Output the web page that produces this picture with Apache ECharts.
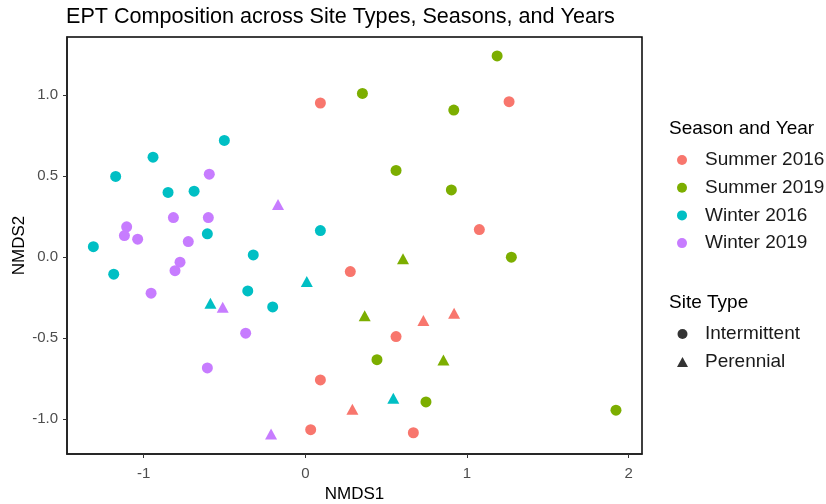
<!DOCTYPE html>
<html>
<head>
<meta charset="utf-8">
<script src="https://cdn.jsdelivr.net/npm/echarts@6/dist/echarts.min.js"></script>
<style>html,body{margin:0;padding:0;background:#fff}#c{width:826px;height:504px}</style>
</head>
<body>
<div id="c"></div>
<script>
// Data: [NMDS1, NMDS2, site type] (I = Intermittent, P = Perennial)
const seasonNames = ['Summer 2016', 'Summer 2019', 'Winter 2016', 'Winter 2019'];
const siteTypes = ['Intermittent', 'Perennial'];
const summer2016 = [
  [0.093, 0.951, 'I'], [1.260, 0.959, 'I'], [1.076, 0.170, 'I'], [0.278, -0.089, 'I'],
  [0.561, -0.490, 'I'], [0.093, -0.757, 'I'], [0.033, -1.064, 'I'], [0.668, -1.083, 'I'],
  [0.730, -0.391, 'P'], [0.920, -0.346, 'P'], [0.291, -0.938, 'P']
];
const summer2019 = [
  [1.186, 1.241, 'I'], [0.353, 1.010, 'I'], [0.918, 0.907, 'I'], [0.561, 0.535, 'I'],
  [0.903, 0.415, 'I'], [1.274, 0.000, 'I'], [0.443, -0.632, 'I'], [0.746, -0.893, 'I'],
  [1.921, -0.944, 'I'],
  [0.604, -0.010, 'P'], [0.367, -0.362, 'P'], [0.854, -0.634, 'P']
];
const winter2016 = [
  [-0.501, 0.720, 'I'], [-0.942, 0.617, 'I'], [-1.173, 0.498, 'I'], [-0.849, 0.399, 'I'],
  [-0.688, 0.407, 'I'], [0.093, 0.164, 'I'], [-0.606, 0.144, 'I'], [-1.311, 0.065, 'I'],
  [-0.322, 0.014, 'I'], [-1.185, -0.105, 'I'], [-0.356, -0.208, 'I'], [-0.202, -0.307, 'I'],
  [-0.587, -0.284, 'P'], [0.009, -0.150, 'P'], [0.544, -0.870, 'P']
];
const winter2019 = [
  [-0.594, 0.512, 'I'], [-0.816, 0.244, 'I'], [-0.600, 0.244, 'I'], [-1.105, 0.187, 'I'],
  [-1.119, 0.133, 'I'], [-1.037, 0.111, 'I'], [-0.724, 0.096, 'I'], [-0.775, -0.031, 'I'],
  [-0.806, -0.083, 'I'], [-0.954, -0.222, 'I'], [-0.369, -0.469, 'I'], [-0.606, -0.683, 'I'],
  [-0.169, 0.325, 'P'], [-0.511, -0.309, 'P'], [-0.212, -1.091, 'P']
];
const xTicks = [-1, 0, 1, 2];
const yTicks = [-1.0, -0.5, 0.0, 0.5, 1.0];

const seasonData = [summer2016, summer2019, winter2016, winter2019];
const colors = ['#F8766D', '#7CAE00', '#00BFC4', '#C77CFF'];
const FONT = 'Liberation Sans, Arial, sans-serif';

const chart = echarts.init(document.getElementById('c'), null, {renderer: 'canvas'});

const series = seasonNames.map((name, i) => ({
  name: name,
  type: 'scatter',
  symbol: 'circle',
  symbolSize: 11,
  itemStyle: {color: colors[i], opacity: 1},
  emphasis: {disabled: true},
  data: seasonData[i].map(p => ({
    value: [p[0], p[1]],
    symbol: p[2] === 'P' ? 'triangle' : 'circle',
    symbolSize: p[2] === 'P' ? [12, 11] : 11
  }))
}));
series.push({name: siteTypes[0], type: 'scatter', symbol: 'circle', itemStyle: {color: '#000'}, data: []});
series.push({name: siteTypes[1], type: 'scatter', symbol: 'triangle', itemStyle: {color: '#000'}, data: []});

const option = {
  animation: false,
  backgroundColor: '#fff',
  title: {
    text: 'EPT Composition across Site Types, Seasons, and Years',
    left: 66, top: 6, padding: 0,
    textStyle: {fontFamily: FONT, fontSize: 21.6, fontWeight: 'normal', color: '#000'}
  },
  grid: {
    left: 67, right: 184, top: 37, bottom: 50,
    containLabel: false, outerBoundsMode: 'none',
    show: true, borderColor: '#000', borderWidth: 1.5, backgroundColor: '#fff'
  },
  xAxis: {
    type: 'value', min: -1.474, max: 2.082,
    name: 'NMDS1', nameLocation: 'middle', nameGap: 32, nameMoveOverlap: false,
    nameTextStyle: {fontFamily: FONT, fontSize: 17, color: '#000'},
    splitLine: {show: false},
    axisLine: {show: true, onZero: false, lineStyle: {color: '#222', width: 1.5}},
    axisTick: {show: true, length: 4, lineStyle: {color: '#333'}, customValues: xTicks},
    axisLabel: {customValues: xTicks, margin: 12, fontFamily: FONT, fontSize: 15, color: '#4D4D4D',
      formatter: v => String(v)}
  },
  yAxis: {
    type: 'value', min: -1.214, max: 1.358,
    name: 'NMDS2', nameLocation: 'middle', nameGap: 39, nameMoveOverlap: false,
    nameTextStyle: {fontFamily: FONT, fontSize: 17, color: '#000'},
    splitLine: {show: false},
    axisLine: {show: true, onZero: false, lineStyle: {color: '#222', width: 1.5}},
    axisTick: {show: true, length: 4, lineStyle: {color: '#333'}, customValues: yTicks},
    axisLabel: {customValues: yTicks, margin: 9, fontFamily: FONT, fontSize: 15, color: '#4D4D4D',
      formatter: v => v.toFixed(1)}
  },
  legend: [
    {
      data: seasonNames, orient: 'vertical', left: 677, top: 150.5, padding: 0,
      itemWidth: 10, itemHeight: 10, itemGap: 8.7, selectedMode: false,
      textStyle: {fontFamily: FONT, fontSize: 19, color: '#1a1a1a', padding: [0, 0, 0, 13]}
    },
    {
      data: siteTypes, orient: 'vertical', left: 677, top: 324.5, padding: 0,
      itemWidth: 11, itemHeight: 10, itemGap: 9, selectedMode: false,
      textStyle: {fontFamily: FONT, fontSize: 19, color: '#1a1a1a', padding: [0, 0, 0, 12]}
    }
  ],
  graphic: [
    {type: 'text', left: 669, top: 119, style: {text: 'Season and Year', font: '19px ' + FONT, fill: '#000'}},
    {type: 'text', left: 669, top: 293, style: {text: 'Site Type', font: '19px ' + FONT, fill: '#000'}}
  ],
  series: series
};
chart.setOption(option);
</script>
</body>
</html>
